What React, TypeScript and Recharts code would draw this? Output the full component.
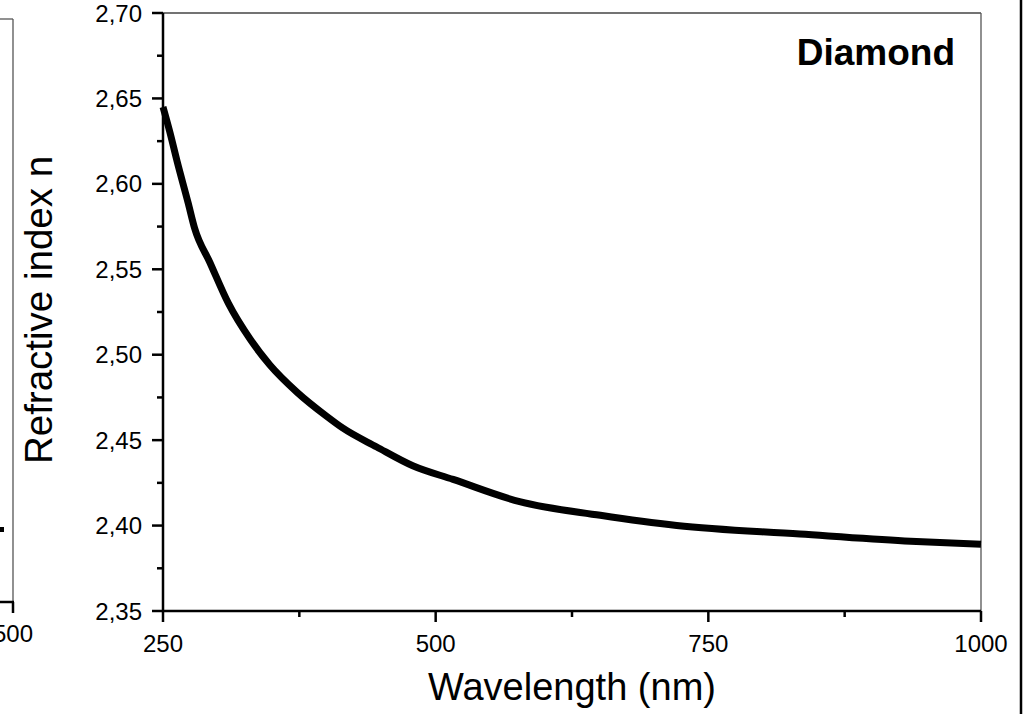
import React from "react";
import { LineChart, Line, XAxis, YAxis, ReferenceLine, Label } from "recharts";

const wavelengths = [250, 256, 263, 273, 279, 293, 310, 330, 348, 373, 400, 415, 446, 479, 516, 577, 651, 721, 834, 930, 1000];
const refractiveIndex = [2.645, 2.631, 2.613, 2.589, 2.574, 2.554, 2.53, 2.509, 2.494, 2.478, 2.464, 2.457, 2.446, 2.435, 2.427, 2.414, 2.406, 2.4, 2.395, 2.391, 2.389];
const xTicks = [250, 375, 500, 625, 750, 875, 1000];
const xMajor = [250, 500, 750, 1000];
const yTicks = [2.35, 2.375, 2.4, 2.425, 2.45, 2.475, 2.5, 2.525, 2.55, 2.575, 2.6, 2.625, 2.65, 2.675, 2.7];
const seriesName = "Diamond";
const xTitle = "Wavelength (nm)";
const yTitle = "Refractive index n";

const data = wavelengths.map((w, i) => ({ w, n: refractiveIndex[i] }));
const FONT = "'Liberation Sans', Arial, sans-serif";

const XTick = (props: any) => {
  const { x, y, payload } = props;
  const v = payload.value;
  const major = xMajor.includes(v);
  return (
    <g>
      <line x1={x} y1={y} x2={x} y2={y + (major ? 11 : 6)} stroke="#000" strokeWidth={2.5} />
      {major && (
        <text x={x} y={y + 41} textAnchor="middle" fontSize={24} fontFamily={FONT} fill="#000">
          {v}
        </text>
      )}
    </g>
  );
};

const YTick = (props: any) => {
  const { x, y, payload } = props;
  const v = payload.value;
  const major = Math.abs(v * 20 - Math.round(v * 20)) < 1e-6;
  return (
    <g>
      <line x1={x} y1={y} x2={x - (major ? 11 : 6)} y2={y} stroke="#000" strokeWidth={2.5} />
      {major && (
        <text x={x - 21} y={y + 8.5} textAnchor="end" fontSize={24} fontFamily={FONT} fill="#000">
          {v.toFixed(2).replace(".", ",")}
        </text>
      )}
    </g>
  );
};

export default function App() {
  return (
    <div style={{ position: "absolute", left: 0, top: 0, width: 1024, height: 714, background: "#fff", overflow: "hidden" }}>
      <LineChart width={1024} height={714} data={data} margin={{ top: 13, right: 43, bottom: 0, left: 0 }}>
        <XAxis
          dataKey="w"
          type="number"
          domain={[250, 1000]}
          ticks={xTicks}
          interval={0}
          height={103}
          tickSize={0}
          tickMargin={0}
          tickLine={false}
          tick={<XTick />}
          axisLine={{ stroke: "#000", strokeWidth: 2.5 }}
        >
          <Label
            content={(p: any) => (
              <text x={p.viewBox.x + p.viewBox.width / 2} y={700} textAnchor="middle" fontSize={38} fontFamily={FONT} fill="#000">
                {xTitle}
              </text>
            )}
          />
        </XAxis>
        <YAxis
          type="number"
          domain={[2.35, 2.7]}
          ticks={yTicks}
          interval={0}
          width={163}
          tickSize={0}
          tickMargin={0}
          tickLine={false}
          tick={<YTick />}
          axisLine={{ stroke: "#000", strokeWidth: 2.5 }}
        >
          <Label
            content={(p: any) => {
              const cy = p.viewBox.y + p.viewBox.height / 2 - 2;
              return (
                <text x={52} y={cy} transform={`rotate(-90, 52, ${cy})`} textAnchor="middle" fontSize={38.5} fontFamily={FONT} fill="#000">
                  {yTitle}
                </text>
              );
            }}
          />
        </YAxis>
        <ReferenceLine y={2.7} stroke="#444" strokeWidth={1.3} ifOverflow="visible" />
        <ReferenceLine x={1000} stroke="#555" strokeWidth={1.3} ifOverflow="visible" />
        <Line dataKey="n" type="monotone" stroke="#000" strokeWidth={7} dot={false} isAnimationActive={false} />
      </LineChart>
      <svg width={1024} height={714} style={{ position: "absolute", left: 0, top: 0, pointerEvents: "none" }}>
        <text x={955} y={65} textAnchor="end" fontSize={37} fontWeight="bold" fontFamily={FONT} fill="#000">
          {seriesName}
        </text>
        <text x={252} y={-9} textAnchor="middle" fontSize={38} fontWeight="bold" fontFamily={FONT} fill="#000">g</text>
        <line x1={0} y1={19} x2={13} y2={19} stroke="#555" strokeWidth={1.3} />
        <line x1={13} y1={19} x2={13} y2={602} stroke="#555" strokeWidth={1.3} />
        <line x1={0} y1={602} x2={14} y2={602} stroke="#000" strokeWidth={2.5} />
        <line x1={13} y1={602} x2={13} y2={613} stroke="#000" strokeWidth={2.5} />
        <rect x={0} y={527} width={4} height={5} fill="#000" />
        <text x={33} y={642} textAnchor="end" fontSize={24} fontFamily={FONT} fill="#000">500</text>
        <line x1={1021} y1={0} x2={1021} y2={714} stroke="#000" strokeWidth={2.5} />
      </svg>
    </div>
  );
}
